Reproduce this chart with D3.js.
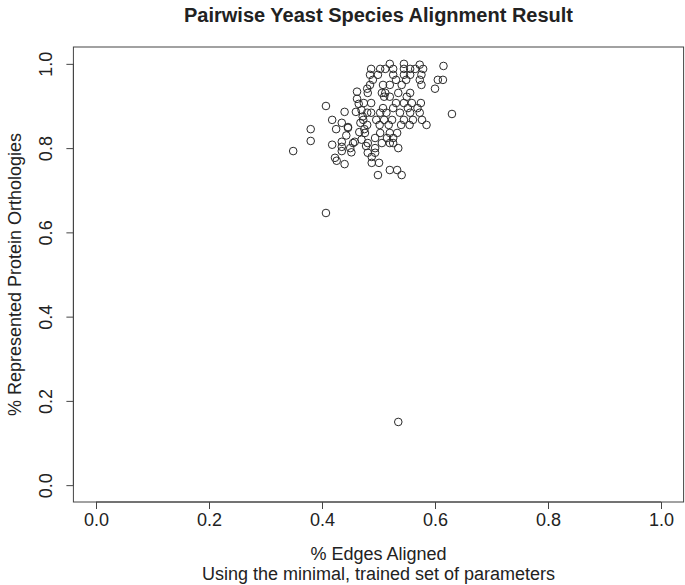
<!DOCTYPE html>
<html><head><meta charset="utf-8">
<script src="https://cdn.jsdelivr.net/npm/d3@7"></script>
<style>body{margin:0;background:#fff}svg{display:block}text{font-family:"Liberation Sans",Arial,sans-serif;fill:#222}</style>
</head><body><svg id="c" width="685" height="585"></svg>
<script>
const title = "Pairwise Yeast Species Alignment Result";
const xLabel = "% Edges Aligned";
const subTitle = "Using the minimal, trained set of parameters";
const yLabel = "% Represented Protein Orthologies";
const xTicks = [0.0, 0.2, 0.4, 0.6, 0.8, 1.0];
const yTicks = [0.0, 0.2, 0.4, 0.6, 0.8, 1.0];
// edges aligned (x) and represented orthologies (y)
const edgesAligned = [
 0.349,0.407,0.380,0.380,0.418,0.435,0.425,0.440,0.418,0.435,0.435,0.423,0.426,0.440,0.407,0.435,0.446,0.462,0.462,0.460,0.446,0.450,0.452,0.443,0.455,
 0.520,0.545,0.573,
 0.487,0.503,0.512,0.526,0.545,0.556,0.565,0.579,
 0.485,0.499,0.526,0.545,0.556,0.576,
 0.490,0.531,0.549,0.573,0.605,
 0.485,0.508,0.520,0.541,0.576,
 0.480,0.600,
 0.481,0.506,0.512,0.535,0.556,
 0.510,0.520,0.550,
 0.474,0.487,0.531,0.545,0.559,0.575,
 0.508,0.526,0.552,0.569,
 0.480,0.487,0.503,0.514,0.538,0.556,0.573,
 0.473,0.496,0.510,0.524,0.545,0.561,0.577,
 0.480,0.502,0.518,0.540,0.555,0.585,
 0.476,0.503,0.520,0.533,
 0.494,0.515,0.526,
 0.481,0.506,0.520,0.526,
 0.494,0.535,
 0.481,0.494,0.488,
 0.488,0.501,
 0.520,0.533,
 0.499,0.541,
 0.615,0.614,0.630,
 0.465,0.470,0.472,0.468,0.475,0.466,0.470,0.458,0.478,
 0.535
];
const orthologies = [
 0.793,0.900,0.845,0.817,0.867,0.860,0.845,0.886,0.808,0.815,0.803,0.777,0.770,0.762,0.646,0.793,0.850,0.934,0.917,0.886,0.848,0.800,0.790,0.830,0.812,
 1.000,1.000,0.998,
 0.988,0.988,0.988,0.988,0.988,0.988,0.988,0.988,
 0.974,0.974,0.974,0.974,0.974,0.974,
 0.962,0.962,0.962,0.962,0.962,
 0.950,0.950,0.950,0.950,0.950,
 0.941,0.941,
 0.931,0.931,0.931,0.931,0.931,
 0.922,0.922,0.922,
 0.907,0.907,0.907,0.907,0.907,0.907,
 0.895,0.895,0.895,0.895,
 0.884,0.884,0.884,0.884,0.884,0.884,0.884,
 0.867,0.867,0.867,0.867,0.867,0.867,0.867,
 0.855,0.855,0.855,0.855,0.855,0.855,
 0.836,0.836,0.836,0.836,
 0.824,0.824,0.824,
 0.812,0.812,0.812,0.812,
 0.800,0.800,
 0.789,0.789,0.779,
 0.765,0.765,
 0.748,0.748,
 0.736,0.736,
 0.995,0.962,0.881,
 0.905,0.890,0.875,0.860,0.845,0.838,0.820,0.815,0.805,
 0.150
];

const svg = d3.select("#c");
const box = {left: 73.4, right: 683.6, top: 47, bottom: 502};
const x = d3.scaleLinear().domain([-0.04, 1.04]).range([box.left, box.right]);
const y = d3.scaleLinear().domain([-0.04, 1.04]).range([box.bottom, box.top]);
const FONT = "Liberation Sans, Arial, sans-serif";

svg.append("rect").attr("x", box.left).attr("y", box.top)
  .attr("width", box.right - box.left).attr("height", box.bottom - box.top)
  .attr("fill", "none").attr("stroke", "#444").attr("stroke-width", 1);

const xAxis = d3.axisBottom(x).tickValues(xTicks).tickFormat(d3.format(".1f")).tickSize(7).tickPadding(4);
const gx = svg.append("g").attr("transform", `translate(0,${box.bottom})`).call(xAxis);
gx.select(".domain").attr("d", `M${x(0)},0H${x(1)}`).attr("stroke", "#444");
gx.selectAll(".tick line").attr("stroke", "#444");
gx.selectAll(".tick text").attr("font-size", 18).attr("font-family", FONT).attr("fill", "#222");

const yAxis = d3.axisLeft(y).tickValues(yTicks).tickFormat(d3.format(".1f")).tickSize(7);
const gy = svg.append("g").attr("transform", `translate(${box.left},0)`).call(yAxis);
gy.select(".domain").attr("d", `M0,${y(0)}V${y(1)}`).attr("stroke", "#444");
gy.selectAll(".tick line").attr("stroke", "#444");
gy.selectAll(".tick text").attr("font-size", 18).attr("font-family", FONT).attr("fill", "#222")
  .attr("x", null).attr("dy", null).attr("text-anchor", "middle")
  .attr("transform", "translate(-21,0) rotate(-90)");

const pts = edgesAligned.map((v, i) => [v, orthologies[i]]);
svg.append("g").selectAll("circle").data(pts).join("circle")
  .attr("cx", d => x(d[0])).attr("cy", d => y(d[1])).attr("r", 3.8)
  .attr("fill", "none").attr("stroke", "#2a2a2a").attr("stroke-width", 1);

const cx = (box.left + box.right) / 2;
svg.append("text").attr("x", cx).attr("y", 22).attr("text-anchor", "middle")
  .attr("font-size", 20).attr("font-weight", "bold").text(title);
svg.append("text").attr("x", cx).attr("y", 560).attr("text-anchor", "middle")
  .attr("font-size", 18).text(xLabel);
svg.append("text").attr("x", cx).attr("y", 580).attr("text-anchor", "middle")
  .attr("font-size", 18).text(subTitle);
svg.append("text").attr("transform", `translate(21,${(box.top + box.bottom) / 2}) rotate(-90)`)
  .attr("text-anchor", "middle").attr("font-size", 18).text(yLabel);
</script></body></html>
